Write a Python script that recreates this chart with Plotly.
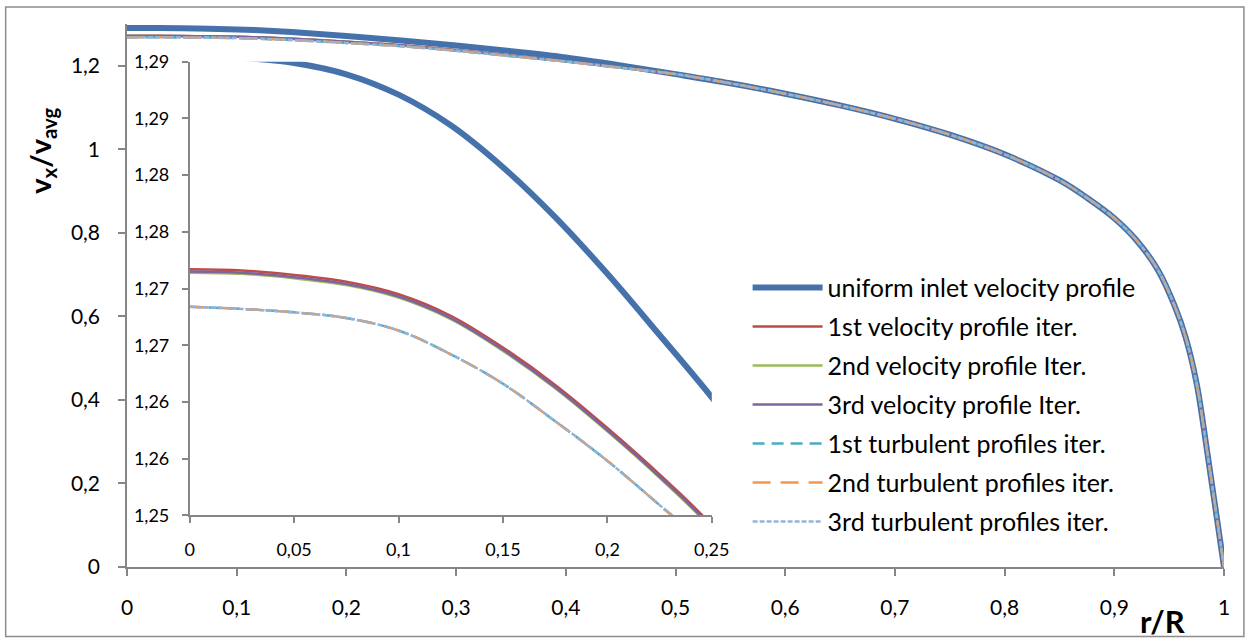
import plotly.graph_objects as go

# Radial position r/R
r_pos = [0, 0.025, 0.05, 0.075, 0.1, 0.125, 0.15, 0.175, 0.2, 0.225, 0.25,
         0.3, 0.35, 0.4, 0.45, 0.5, 0.55, 0.6, 0.65, 0.7, 0.75, 0.8, 0.85,
         0.875, 0.9, 0.92, 0.94, 0.955, 0.965, 0.975, 0.985, 1.0]

# Outer-region values shared by all profiles (r/R >= 0.5)
outer = [1.180, 1.158, 1.133, 1.105, 1.073, 1.035, 0.988, 0.926,
         0.884, 0.835, 0.783, 0.710, 0.625, 0.550, 0.440, 0.270, 0.0]

v_uniform = [1.2906, 1.29035, 1.2899, 1.2889, 1.2871, 1.2844, 1.2807, 1.2763,
             1.2713, 1.2659, 1.2604, 1.2485, 1.2350, 1.2200, 1.2010] + outer
v_vel_1 = [1.2717, 1.2716, 1.2712, 1.2706, 1.2695, 1.2676, 1.2648, 1.2615,
           1.2577, 1.2536, 1.2491, 1.2375, 1.2245, 1.2110, 1.1960] + outer
v_vel_2 = [1.2714, 1.2713, 1.2709, 1.2703, 1.2692, 1.2673, 1.2645, 1.2612,
           1.2574, 1.2533, 1.2488, 1.2372, 1.2242, 1.2107, 1.1957] + outer
v_vel_3 = [1.2715, 1.2714, 1.2710, 1.2704, 1.2693, 1.2674, 1.2646, 1.2613,
           1.2575, 1.2534, 1.2489, 1.2373, 1.2243, 1.2108, 1.1958] + outer
v_turb_1 = [1.2684, 1.2682, 1.2679, 1.2674, 1.2663, 1.2642, 1.2616, 1.2583,
            1.2548, 1.2509, 1.2469, 1.2360, 1.2230, 1.2100, 1.1950] + outer
v_turb_2 = list(v_turb_1)
v_turb_3 = list(v_turb_1)

series_names = ["uniform inlet velocity profile", "1st velocity profile iter.",
                "2nd velocity profile Iter.", "3rd velocity profile Iter.",
                "1st turbulent profiles iter.", "2nd turbulent profiles iter.",
                "3rd turbulent profiles iter."]
series_values = [v_uniform, v_vel_1, v_vel_2, v_vel_3, v_turb_1, v_turb_2, v_turb_3]
series_colors = ["#4672AC", "#BE4B48", "#9BBB59", "#7F63A1", "#4BACC6", "#F79646", "#95B3D7"]
series_widths = [6, 2.5, 2.5, 2.5, 2.5, 2.5, 2.5]
series_dash = ["solid", "solid", "solid", "solid", "12px,7px", "18px,10px", "5px,2px"]

main_x_ticks = [0, 0.1, 0.2, 0.3, 0.4, 0.5, 0.6, 0.7, 0.8, 0.9, 1.0]
main_y_ticks = [0, 0.2, 0.4, 0.6, 0.8, 1.0, 1.2]
inset_y_ticks = [1.25, 1.255, 1.26, 1.265, 1.27, 1.275, 1.28, 1.285, 1.29]
inset_y_labels = ["1,25", "1,26", "1,26", "1,27", "1,27", "1,28", "1,28", "1,29", "1,29"]

FONT = "Lato"
AXIS_GREY = "#868686"

fig = go.Figure()

# Full profiles on the main axes
for name, vals, col, w, d in zip(series_names, series_values, series_colors,
                                 series_widths, series_dash):
    fig.add_trace(go.Scatter(
        x=r_pos, y=vals, name=name, mode="lines",
        line=dict(color=col, width=w, dash=d, shape="spline", smoothing=1.0),
        legendgroup=name, xaxis="x", yaxis="y"))

# Core-region detail on the inset axes
for name, vals, col, w, d in zip(series_names, series_values, series_colors,
                                 series_widths, series_dash):
    fig.add_trace(go.Scatter(
        x=r_pos, y=vals, name=name, mode="lines", showlegend=False,
        line=dict(color=col, width=w, dash=d, shape="spline", smoothing=1.0),
        legendgroup=name, xaxis="x2", yaxis="y2"))

PL, PR, PT, PB = 127, 1230, 21, 567
W, H = 1254, 641


def px(xp):
    return (xp - PL) / (PR - PL)


def py(yp):
    return (PB - yp) / (PB - PT)


axis_common = dict(showline=True, linecolor=AXIS_GREY, linewidth=1.5,
                   ticks="outside", tickcolor=AXIS_GREY, tickwidth=1.5,
                   showgrid=False, zeroline=False)

fig.update_layout(
    width=W, height=H,
    margin=dict(l=PL, r=W - PR, t=PT, b=H - PB),
    paper_bgcolor="white", plot_bgcolor="rgba(0,0,0,0)",
    separators=",.",
    font=dict(family=FONT, color="#000000"),
    xaxis=dict(range=[0, 1], tickvals=main_x_ticks, ticklen=7,
               tickfont=dict(size=21), ticklabelstandoff=14, **axis_common),
    yaxis=dict(range=[0, 1.3], tickvals=main_y_ticks, ticklen=7,
               tickfont=dict(size=21), ticklabelstandoff=14, **axis_common),
    xaxis2=dict(domain=[px(190), px(715)], anchor="y2", range=[0, 0.25],
                dtick=0.05, tick0=0, ticklen=6, tickfont=dict(size=18),
                ticklabelstandoff=11, **axis_common),
    yaxis2=dict(domain=[py(515), py(59)], anchor="x2", range=[1.25, 1.29],
                tickvals=inset_y_ticks, ticktext=inset_y_labels, ticklen=6,
                tickfont=dict(size=18), ticklabelstandoff=9, **axis_common),
    showlegend=True,
    legend=dict(x=px(751), y=py(263), xanchor="left", yanchor="top",
                bgcolor="rgba(0,0,0,0)", font=dict(size=25, family=FONT),
                itemwidth=70, tracegroupgap=3.5, traceorder="grouped"),
    shapes=[dict(type="rect", xref="paper", yref="paper",
                 x0=px(5), x1=px(1250), y0=py(637), y1=py(4),
                 line=dict(color="#8C8C8C", width=1.5), layer="below")],
    annotations=[
        dict(text="<b>v<sub>x</sub>/v<sub>avg</sub></b>", xref="paper", yref="paper",
             x=px(41), y=py(148), showarrow=False, textangle=-90,
             font=dict(size=29, family=FONT), xanchor="center", yanchor="middle"),
        dict(text="<b>r/R</b>", xref="paper", yref="paper",
             x=px(1168), y=py(621), showarrow=False,
             font=dict(size=31, family=FONT), xanchor="center", yanchor="middle"),
    ],
)

fig.write_html("out.html")
